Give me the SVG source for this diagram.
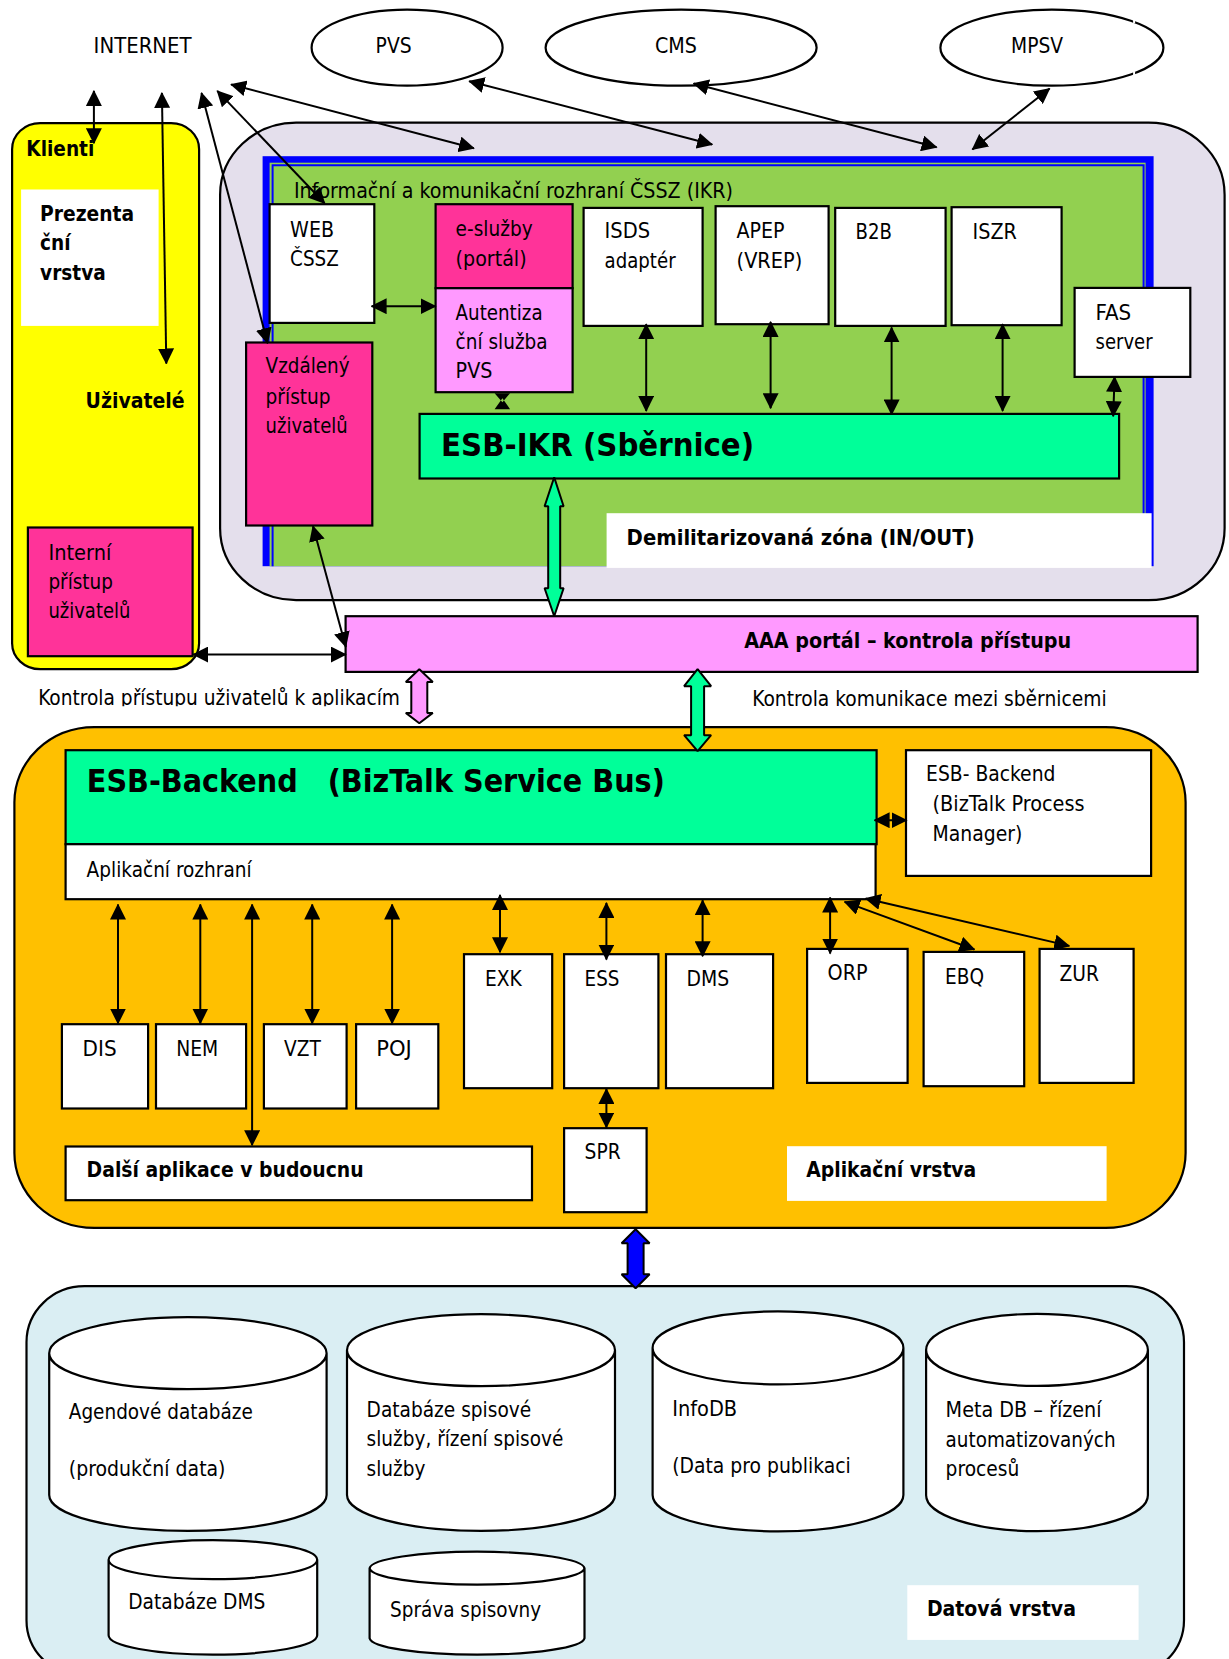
<svg xmlns="http://www.w3.org/2000/svg" width="1229" height="1659" viewBox="0 0 1229 1659">
<style>
text{font-family:"DejaVu Sans Condensed","DejaVu Sans","Liberation Sans",sans-serif;font-size:21px;fill:#000;font-stretch:condensed}
.b{font-weight:bold}
.xl{font-weight:bold;font-size:32px}
.s{stroke:#000;stroke-width:2.200}
.w{fill:#fff}
.m{fill:#FF3399}
.p{fill:#FF99FF}
.g{fill:#00FF99}
.c{stroke:#000;stroke-width:2;fill:none;marker-start:url(#h);marker-end:url(#h)}
.ba{stroke:#000;stroke-width:2;stroke-linejoin:bevel}
</style>
<defs>
<marker id="h" markerUnits="userSpaceOnUse" markerWidth="16" markerHeight="16" refX="15" refY="8" orient="auto-start-reverse"><path d="M0,0L16,8L0,16Z" fill="#000"/></marker>
<clipPath id="cut"><rect x="30" y="680" width="375" height="26"/></clipPath>
</defs>
<rect width="1229" height="1659" fill="#fff"/>
<g id="diagram" transform="translate(0.6,0.2)">

<g id="internet"><text x="93" y="52.7" textLength="98" lengthAdjust="spacingAndGlyphs">INTERNET</text></g>
<g id="pvs"><ellipse class="s w" cx="406.5" cy="47.5" rx="95.5" ry="38"/><text x="375" y="52.7" textLength="36" lengthAdjust="spacingAndGlyphs">PVS</text></g>
<g id="cms"><ellipse class="s w" cx="680.5" cy="47.5" rx="135.5" ry="38"/><text x="654.3" y="52.7" textLength="42" lengthAdjust="spacingAndGlyphs">CMS</text></g>
<g id="mpsv"><ellipse class="s w" cx="1051.3" cy="47.5" rx="111.5" ry="38"/><rect x="1132.5" y="18" width="2" height="5" fill="#fff"/><rect x="1132.5" y="71" width="2" height="5" fill="#fff"/><text x="1010.5" y="52.7" textLength="52" lengthAdjust="spacingAndGlyphs">MPSV</text></g>

<g id="klienti">
<rect class="s" x="11.5" y="123" width="187" height="546" rx="28" ry="26" fill="#FFFF00"/>
<text class="b" x="25.7" y="156" textLength="68" lengthAdjust="spacingAndGlyphs">Klienti</text>
<rect class="w" x="20.5" y="189.3" width="137.5" height="136.4"/>
<text class="b" x="39.5" y="220.7" textLength="94" lengthAdjust="spacingAndGlyphs">Prezenta</text>
<text class="b" x="39.5" y="250" textLength="30.5" lengthAdjust="spacingAndGlyphs">ční</text>
<text class="b" x="39.5" y="280" textLength="65.6" lengthAdjust="spacingAndGlyphs">vrstva</text>
<text class="b" x="85" y="408" textLength="99" lengthAdjust="spacingAndGlyphs">Uživatelé</text>
</g>
<g id="interni">
<rect class="s m" x="27.3" y="527.3" width="164.7" height="128.7"/>
<text x="47.8" y="560" textLength="63" lengthAdjust="spacingAndGlyphs">Interní</text>
<text x="47.8" y="589.3" textLength="64.5" lengthAdjust="spacingAndGlyphs">přístup</text>
<text x="47.8" y="618.3" textLength="82" lengthAdjust="spacingAndGlyphs">uživatelů</text>
</g>

<g id="dmz">
<rect class="s" x="219.5" y="122.5" width="1004.5" height="477.5" rx="76" ry="72" fill="#E4DFEC"/>
<rect x="262" y="156" width="891" height="410" fill="#0000FF"/>
<rect x="269" y="162.5" width="876" height="403.5" fill="#92D050"/>
<path d="M272,566V165H1143V566" fill="none" stroke="#0000FF" stroke-width="2"/>
<rect x="606" y="513" width="545" height="54.7" fill="#fff"/>
<text class="b" x="626" y="545" textLength="348" lengthAdjust="spacingAndGlyphs">Demilitarizovaná zóna (IN/OUT)</text>
<text x="293.4" y="198.3" textLength="439" lengthAdjust="spacingAndGlyphs">Informační a komunikační rozhraní ČSSZ (IKR)</text>
</g>

<g id="web"><rect class="s w" x="269" y="204" width="104.7" height="118.7"/><text x="289.5" y="236.7" textLength="44" lengthAdjust="spacingAndGlyphs">WEB</text><text x="289.5" y="265.7" textLength="48.6" lengthAdjust="spacingAndGlyphs">ČSSZ</text></g>
<g id="esluzby"><rect class="s m" x="435" y="204" width="137" height="84"/><text x="455" y="236" textLength="77" lengthAdjust="spacingAndGlyphs">e-služby</text><text x="455" y="265.7" textLength="71" lengthAdjust="spacingAndGlyphs">(portál)</text></g>
<g id="autentizace"><rect class="s p" x="435" y="288" width="137" height="104"/><text x="455" y="320" textLength="87" lengthAdjust="spacingAndGlyphs">Autentiza</text><text x="455" y="349" textLength="92" lengthAdjust="spacingAndGlyphs">ční služba</text><text x="455" y="378" textLength="36.8" lengthAdjust="spacingAndGlyphs">PVS</text></g>
<g id="vzdaleny"><rect class="s m" x="245.5" y="342.3" width="126.2" height="183"/><text x="265" y="373" textLength="84" lengthAdjust="spacingAndGlyphs">Vzdálený</text><text x="265" y="404" textLength="65" lengthAdjust="spacingAndGlyphs">přístup</text><text x="265" y="433" textLength="82" lengthAdjust="spacingAndGlyphs">uživatelů</text></g>
<g id="isds"><rect class="s w" x="583" y="207.7" width="119" height="118"/><text x="604" y="238" textLength="45.5" lengthAdjust="spacingAndGlyphs">ISDS</text><text x="604" y="268" textLength="71" lengthAdjust="spacingAndGlyphs">adaptér</text></g>
<g id="apep"><rect class="s w" x="715" y="206" width="113" height="118"/><text x="736" y="237.7" textLength="48" lengthAdjust="spacingAndGlyphs">APEP</text><text x="736" y="267.7" textLength="65.6" lengthAdjust="spacingAndGlyphs">(VREP)</text></g>
<g id="b2b"><rect class="s w" x="834.6" y="207.7" width="110.4" height="118"/><text x="855" y="239" textLength="36.4" lengthAdjust="spacingAndGlyphs">B2B</text></g>
<g id="iszr"><rect class="s w" x="951" y="207" width="110" height="118"/><text x="972" y="238.7" textLength="44.3" lengthAdjust="spacingAndGlyphs">ISZR</text></g>
<g id="fas"><rect class="s w" x="1074" y="287.7" width="115.7" height="89"/><text x="1095" y="320" textLength="35.6" lengthAdjust="spacingAndGlyphs">FAS</text><text x="1095" y="349" textLength="57" lengthAdjust="spacingAndGlyphs">server</text></g>
<g id="esb-ikr"><rect class="s g" x="419" y="413.7" width="699.5" height="64.6"/><text class="xl" x="440.5" y="456" textLength="313" lengthAdjust="spacingAndGlyphs">ESB-IKR (Sběrnice)</text></g>

<g id="aaa"><rect class="s p" x="345" y="616" width="852" height="55.7"/><text class="b" x="743.6" y="647.7" textLength="327" lengthAdjust="spacingAndGlyphs">AAA portál – kontrola přístupu</text></g>
<g id="kontrola-uziv"><text clip-path="url(#cut)" x="37.6" y="705" textLength="361.8" lengthAdjust="spacingAndGlyphs">Kontrola přístupu uživatelů k aplikacím</text></g>
<g id="kontrola-kom"><text x="751.6" y="705.7" textLength="354.4" lengthAdjust="spacingAndGlyphs">Kontrola komunikace mezi sběrnicemi</text></g>

<g id="app-layer">
<rect class="s" x="13.8" y="727" width="1171.2" height="500.7" rx="80" ry="75" fill="#FFC000"/>
<rect x="786.4" y="1146" width="319.6" height="54.7" fill="#fff"/>
<text class="b" x="805.7" y="1176.7" textLength="170" lengthAdjust="spacingAndGlyphs">Aplikační vrstva</text>
</g>
<g id="esb-backend"><rect class="s g" x="65" y="750" width="811" height="94"/><text class="xl" x="86.2" y="791.7" textLength="578" lengthAdjust="spacingAndGlyphs">ESB-Backend&#160;&#160;&#160;(BizTalk Service Bus)</text></g>
<g id="rozhrani"><rect class="s w" x="65" y="844" width="810" height="55"/><text x="86" y="876.7" textLength="165" lengthAdjust="spacingAndGlyphs">Aplikační rozhraní</text></g>
<g id="process"><rect class="s w" x="905.4" y="750" width="245.1" height="125.7"/><text x="925.5" y="781" textLength="129.3" lengthAdjust="spacingAndGlyphs">ESB- Backend</text><text x="932" y="810.7" textLength="152" lengthAdjust="spacingAndGlyphs">(BizTalk Process</text><text x="932" y="841" textLength="89.8" lengthAdjust="spacingAndGlyphs">Manager)</text></g>

<g id="dis"><rect class="s w" x="61.3" y="1024" width="86.2" height="84.3"/><text x="82" y="1055.7" textLength="34" lengthAdjust="spacingAndGlyphs">DIS</text></g>
<g id="nem"><rect class="s w" x="155.4" y="1024" width="90.1" height="84.3"/><text x="175.6" y="1055.7" textLength="42" lengthAdjust="spacingAndGlyphs">NEM</text></g>
<g id="vzt"><rect class="s w" x="263.3" y="1024" width="82.7" height="84.3"/><text x="283.5" y="1055.7" textLength="36.8" lengthAdjust="spacingAndGlyphs">VZT</text></g>
<g id="poj"><rect class="s w" x="355.5" y="1024" width="82.2" height="84.3"/><text x="375.6" y="1055.7" textLength="35.6" lengthAdjust="spacingAndGlyphs">POJ</text></g>
<g id="exk"><rect class="s w" x="463.4" y="954" width="88.2" height="134"/><text x="484.4" y="985.7" textLength="36.8" lengthAdjust="spacingAndGlyphs">EXK</text></g>
<g id="ess"><rect class="s w" x="563.5" y="954" width="94.3" height="134"/><text x="584" y="985.7" textLength="34.8" lengthAdjust="spacingAndGlyphs">ESS</text></g>
<g id="dms"><rect class="s w" x="665.4" y="954" width="107.1" height="134"/><text x="686" y="985.7" textLength="42.7" lengthAdjust="spacingAndGlyphs">DMS</text></g>
<g id="orp"><rect class="s w" x="806.5" y="948.7" width="100.5" height="134"/><text x="827" y="980" textLength="40" lengthAdjust="spacingAndGlyphs">ORP</text></g>
<g id="ebq"><rect class="s w" x="923" y="951.7" width="100.6" height="134.3"/><text x="944.5" y="983.7" textLength="39" lengthAdjust="spacingAndGlyphs">EBQ</text></g>
<g id="zur"><rect class="s w" x="1039" y="948.7" width="94" height="134"/><text x="1058.8" y="981" textLength="39.5" lengthAdjust="spacingAndGlyphs">ZUR</text></g>
<g id="spr"><rect class="s w" x="563.5" y="1128" width="82.5" height="84"/><text x="584" y="1159" textLength="36" lengthAdjust="spacingAndGlyphs">SPR</text></g>
<g id="dalsi"><rect class="s w" x="65" y="1146.3" width="466.4" height="53.7"/><text class="b" x="86" y="1177" textLength="277" lengthAdjust="spacingAndGlyphs">Další aplikace v budoucnu</text></g>

<g id="data-layer">
<rect class="s" x="25.9" y="1286" width="1157.5" height="390" rx="58" ry="56" fill="#DAEEF3"/>
<rect x="906.7" y="1585" width="231.3" height="54.7" fill="#fff"/>
<text class="b" x="926.3" y="1615.7" textLength="149" lengthAdjust="spacingAndGlyphs">Datová vrstva</text>
</g>
<g id="db1"><path class="s w" d="M48.6,1353V1494.7A138.7,36 0 0 0 326,1494.7V1353A138.7,36 0 0 0 48.6,1353A138.7,36 0 0 0 326,1353"/><text x="68.2" y="1419" textLength="184" lengthAdjust="spacingAndGlyphs">Agendové databáze</text><text x="68.2" y="1476" textLength="156.7" lengthAdjust="spacingAndGlyphs">(produkční data)</text></g>
<g id="db2"><path class="s w" d="M346.4,1350V1494.7A134,36 0 0 0 614.4,1494.7V1350A134,36 0 0 0 346.4,1350A134,36 0 0 0 614.4,1350"/><text x="366" y="1417.3" textLength="164.6" lengthAdjust="spacingAndGlyphs">Databáze spisové</text><text x="366" y="1446.3" textLength="196.7" lengthAdjust="spacingAndGlyphs">služby, řízení spisové</text><text x="366" y="1476" textLength="58.8" lengthAdjust="spacingAndGlyphs">služby</text></g>
<g id="db3"><path class="s w" d="M652,1347.7V1494.7A125.4,36.5 0 0 0 902.8,1494.7V1347.7A125.4,36.5 0 0 0 652,1347.7A125.4,36.5 0 0 0 902.8,1347.7"/><text x="671.6" y="1415.7" textLength="65" lengthAdjust="spacingAndGlyphs">InfoDB</text><text x="671.6" y="1473.3" textLength="178.6" lengthAdjust="spacingAndGlyphs">(Data pro publikaci</text></g>
<g id="db4"><path class="s w" d="M925.5,1349.7V1495A110.9,36 0 0 0 1147.3,1495V1349.7A110.9,36 0 0 0 925.5,1349.7A110.9,36 0 0 0 1147.3,1349.7"/><text x="945" y="1417.3" textLength="156" lengthAdjust="spacingAndGlyphs">Meta DB – řízení</text><text x="945" y="1447" textLength="170" lengthAdjust="spacingAndGlyphs">automatizovaných</text><text x="945" y="1476" textLength="73.7" lengthAdjust="spacingAndGlyphs">procesů</text></g>
<g id="db5"><path class="s w" d="M108,1559.5V1635A104.3,19.5 0 0 0 316.6,1635V1559.5A104.3,19.5 0 0 0 108,1559.5A104.3,19.5 0 0 0 316.6,1559.5"/><text x="127.7" y="1609" textLength="137" lengthAdjust="spacingAndGlyphs">Databáze DMS</text></g>
<g id="db6"><path class="s w" d="M369,1568V1638A107.5,17 0 0 0 583.9,1638V1568A107.5,17 0 0 0 369,1568A107.5,17 0 0 0 583.9,1568"/><text x="389.5" y="1616.7" textLength="151" lengthAdjust="spacingAndGlyphs">Správa spisovny</text></g>

<g id="connectors">
<line class="c" x1="93.3" y1="90.7" x2="93.3" y2="143"/>
<line class="c" x1="161.3" y1="92.7" x2="165.7" y2="363.3"/>
<line class="c" x1="200.9" y1="92.7" x2="267" y2="343"/>
<line class="c" x1="216.7" y1="90.7" x2="324" y2="203"/>
<line class="c" x1="230.5" y1="84.3" x2="473.3" y2="148"/>
<line class="c" x1="468.6" y1="81" x2="711.6" y2="144.3"/>
<line class="c" x1="693" y1="83.3" x2="936" y2="147"/>
<line class="c" x1="1049" y1="88.3" x2="971.8" y2="149.3"/>
<line class="c" x1="371" y1="306" x2="435" y2="306"/>
<path d="M494,393H509.500L501.800,402ZM494,409H509.500L501.800,398Z" fill="#000"/>
<line class="c" x1="645.600" y1="324" x2="645.600" y2="410.700"/>
<line class="c" x1="770" y1="321.700" x2="770" y2="408"/>
<line class="c" x1="891" y1="327.300" x2="891" y2="414.300"/>
<line class="c" x1="1002" y1="324" x2="1002" y2="410.700"/>
<line class="c" x1="1114" y1="376.700" x2="1112.600" y2="416"/>
<line class="c" x1="312.400" y1="526" x2="345.200" y2="646.700"/>
<line class="c" x1="192.600" y1="654.300" x2="345.200" y2="654.300"/>
<line class="c" x1="874" y1="820" x2="906" y2="820"/>
<line class="c" x1="117.400" y1="904.300" x2="117.400" y2="1023.300"/>
<line class="c" x1="199.700" y1="904.300" x2="199.700" y2="1023.300"/>
<line class="c" x1="251.500" y1="904.300" x2="251.500" y2="1145"/>
<line class="c" x1="311.600" y1="904.300" x2="311.600" y2="1023.300"/>
<line class="c" x1="391.500" y1="904.300" x2="391.500" y2="1023.300"/>
<line class="c" x1="499.400" y1="894.700" x2="499.400" y2="952"/>
<line class="c" x1="605.800" y1="902.700" x2="605.800" y2="959.300"/>
<line class="c" x1="702" y1="900" x2="702" y2="956"/>
<line class="c" x1="829.500" y1="897.300" x2="829.500" y2="953.300"/>
<line class="c" x1="844" y1="901.700" x2="973.800" y2="949.300"/>
<line class="c" x1="865" y1="898.300" x2="1068.700" y2="945.700"/>
<line class="c" x1="605.800" y1="1088.700" x2="605.800" y2="1127.300"/>
<polygon class="ba g" points="553.600,477 563,506 559.600,506 559.600,588 563,588 553.600,616 544,588 547.600,588 547.600,506 544,506"/>
<polygon class="ba g" points="697,669 710.500,686 703.500,686 703.500,735 710.500,735 697,751 683.500,735 690.500,735 690.500,686 683.500,686"/>
<polygon class="ba p" points="418.700,669 432.200,681.700 426.700,681.700 426.700,712.700 432.200,712.700 418.700,723 405.200,712.700 410.700,712.700 410.700,681.700 405.200,681.700"/>
<polygon class="ba" fill="#0000FF" points="635,1229 649,1243 643,1243 643,1274 649,1274 635,1288 621,1274 627,1274 627,1243 621,1243"/>
</g>
</g>
</svg>
